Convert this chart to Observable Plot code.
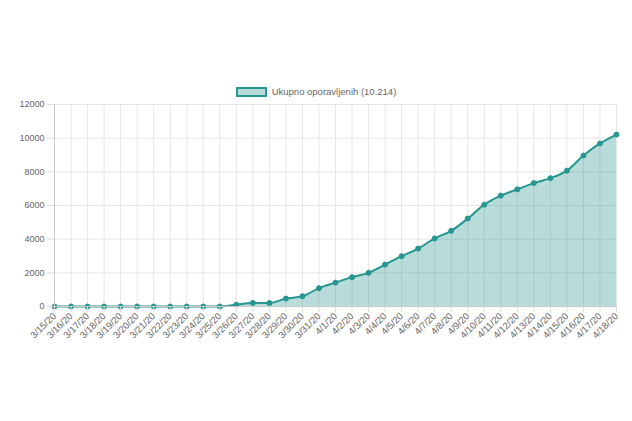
<!DOCTYPE html>
<html>
<head>
<meta charset="utf-8">
<script src="https://cdn.jsdelivr.net/npm/d3@7"></script>
<script src="https://cdn.jsdelivr.net/npm/@observablehq/plot@0.6"></script>
<style>
  html, body { margin: 0; padding: 0; background: #fff; }
  body { width: 632px; height: 421px; overflow: hidden; font-family: "Liberation Sans", Arial, Helvetica, sans-serif; }
  #legend { height: 98px; position: relative; }
  #legend .item { position: absolute; left: 0; right: 0; top: 87px; display: flex; justify-content: center; align-items: center; height: 10px; }
  #legend .sw { width: 27px; height: 6px; border: 2px solid #26968f; background: rgba(38,150,143,0.33); margin-right: 5px; }
  #legend .lbl { font-size: 9.5px; color: #666; line-height: 10px; }
  #chart svg { display: block; }
</style>
</head>
<body>
<div id="legend"><div class="item"><div class="sw"></div><span class="lbl" id="lbl"></span></div></div>
<div id="chart"></div>
<script>
const seriesName = "Ukupno oporavljenih (10.214)";
const dates = ["3/15/20","3/16/20","3/17/20","3/18/20","3/19/20","3/20/20","3/21/20","3/22/20","3/23/20","3/24/20","3/25/20","3/26/20","3/27/20","3/28/20","3/29/20","3/30/20","3/31/20","4/1/20","4/2/20","4/3/20","4/4/20","4/5/20","4/6/20","4/7/20","4/8/20","4/9/20","4/10/20","4/11/20","4/12/20","4/13/20","4/14/20","4/15/20","4/16/20","4/17/20","4/18/20"];
const values = [0,0,0,0,0,0,0,0,0,0,0,110,215,205,470,610,1090,1420,1745,2000,2490,2990,3445,4040,4495,5225,6050,6585,6960,7330,7625,8070,8970,9685,10214];
const yTicks = [0,2000,4000,6000,8000,10000,12000];

document.getElementById("lbl").textContent = seriesName;
const data = dates.map((d, i) => ({i, date: d, value: values[i]}));
const idx = dates.map((d, i) => i);
const teal = "#26968f";

const chart = Plot.plot({
  width: 632,
  height: 323,
  marginTop: 6,
  marginLeft: 54,
  marginRight: 16,
  marginBottom: 115,
  style: {fontFamily: "'Liberation Sans', Arial, Helvetica, sans-serif", fontSize: "9.5px", color: "#666", background: "#fff"},
  x: {type: "linear", domain: [0, dates.length - 1]},
  y: {domain: [0, 12000]},
  marks: [
    Plot.ruleX(idx, {stroke: "#e6e6e6", strokeWidth: 1}),
    Plot.ruleY(yTicks, {stroke: "#e6e6e6", strokeWidth: 1}),
    Plot.areaY(data, {x: "i", y: "value", fill: teal, fillOpacity: 0.33, curve: "monotone-x"}),
    Plot.lineY(data, {x: "i", y: "value", stroke: teal, strokeWidth: 2, curve: "monotone-x"}),
    Plot.dot(data, {x: "i", y: "value", r: 2.5, fill: teal, stroke: teal, strokeWidth: 1}),
    Plot.ruleX([0], {stroke: "#c8c8c8"}),
    Plot.ruleY([0], {stroke: "#c8c8c8"}),
    Plot.axisX({ticks: idx, tickFormat: i => dates[i], tickRotate: -45, tickSize: 6, tickPadding: 2, stroke: "#dcdcdc", fill: "#666", label: null}),
    Plot.axisY({ticks: yTicks, tickFormat: "d", tickSize: 7, tickPadding: 3, stroke: "#dcdcdc", fill: "#666", fontSize: 9, label: null})
  ]
});
document.getElementById("chart").appendChild(chart);
</script>
</body>
</html>
